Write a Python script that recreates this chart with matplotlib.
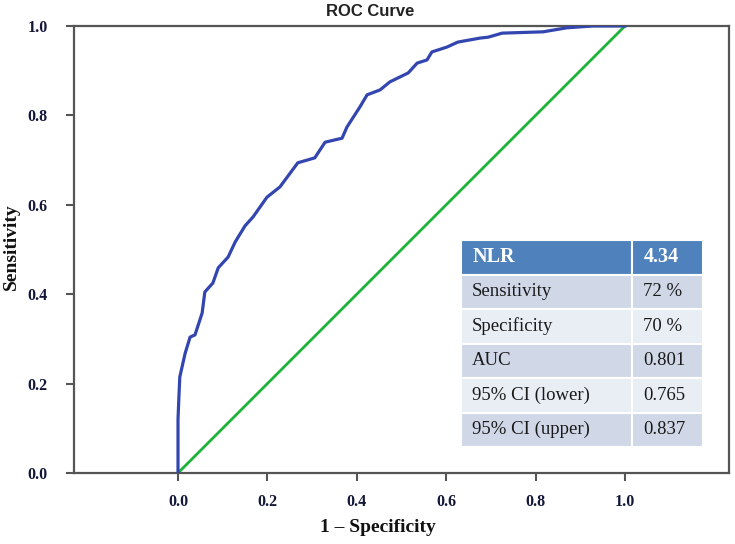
import numpy as np
import matplotlib
matplotlib.use("Agg")
import matplotlib.pyplot as plt

# ROC points (1 - specificity, sensitivity)
fpr = [0.0, 0.0, 0.002, 0.004, 0.016, 0.027, 0.038, 0.054, 0.060, 0.078, 0.090,
       0.112, 0.128, 0.150, 0.168, 0.199, 0.228, 0.268, 0.306, 0.329, 0.367,
       0.378, 0.407, 0.423, 0.452, 0.474, 0.515, 0.535, 0.557, 0.568, 0.602,
       0.626, 0.676, 0.694, 0.725, 0.817, 0.870, 0.928, 1.0]
tpr = [0.0, 0.12, 0.17, 0.215, 0.268, 0.304, 0.309, 0.358, 0.405, 0.425, 0.459,
       0.483, 0.517, 0.553, 0.573, 0.617, 0.640, 0.694, 0.705, 0.740, 0.749,
       0.774, 0.819, 0.846, 0.857, 0.875, 0.895, 0.917, 0.924, 0.942, 0.953,
       0.964, 0.973, 0.975, 0.984, 0.987, 0.996, 1.0, 1.0]

ref_line = [0.0, 1.0]

tbl_labels = ["NLR", "Sensitivity", "Specificity", "AUC", "95% CI (lower)", "95% CI (upper)"]
tbl_values = ["4.34", "72 %", "70 %", "0.801", "0.765", "0.837"]

fig = plt.figure(figsize=(7.35, 5.44), dpi=100)
ax = fig.add_axes([74/735, 1-473/544, 655/735, 447/544])

ax.plot(fpr, tpr, color="#3346b0", lw=2.3, zorder=3)
ax.plot(ref_line, ref_line, color="#1db33b", lw=2.0, zorder=2)

ax.set_xlim(-0.2327, 1.2327)
ax.set_ylim(0, 1)
ticks = [0.0, 0.2, 0.4, 0.6, 0.8, 1.0]
ax.set_xticks(ticks)
ax.set_yticks(ticks)
ax.set_xticklabels(["%.1f" % t for t in ticks])
ax.set_yticklabels(["%.1f" % t for t in ticks])
for lab in ax.get_xticklabels() + ax.get_yticklabels():
    lab.set_fontfamily("Liberation Serif")
    lab.set_fontweight("bold")
    lab.set_fontsize(11.5)
    lab.set_color("#141838")
ax.tick_params(axis="x", direction="out", length=6, width=1.5, color="#555555", pad=9)
ax.tick_params(axis="y", direction="out", length=6, width=1.5, color="#555555", pad=13)
for s in ax.spines.values():
    s.set_color("#555555")
    s.set_linewidth(1.6)

fig.text(370/735, 1-12/544, "ROC Curve", ha="center", va="center",
         fontfamily="Liberation Sans", fontweight="bold", fontsize=12, color="#222222")
fig.text(11/735, 1-247/544, "Sensitivity", rotation=90, ha="center", va="center",
         fontfamily="Liberation Serif", fontweight="bold", fontsize=14, color="#111111")
fig.text(378/735, 1-528/544, "1 \u2013 Specificity", ha="center", va="center",
         fontfamily="Liberation Serif", fontweight="bold", fontsize=14, color="#111111")

# summary table
cells = [[a, b] for a, b in zip(tbl_labels, tbl_values)]
tl = (461-74)/655
tb = (473-447)/447
tw = (703-461)/655
th = (447-240)/447
tab = ax.table(cellText=cells, cellLoc="left", bbox=[tl, tb, tw, th],
               colWidths=[171/242, 71/242], zorder=5)
tab.auto_set_font_size(False)
for (r, c), cell in tab.get_celld().items():
    cell.set_edgecolor("white")
    cell.set_linewidth(1.5)
    cell.PAD = 0.065 if c == 0 else 0.16
    txt = cell.get_text()
    txt.set_fontfamily("Liberation Serif")
    txt.set_fontsize(13.5)
    if r == 0:
        cell.set_facecolor("#4f81bd")
        txt.set_color("white")
        txt.set_fontweight("bold")
        txt.set_fontsize(14.5)
    else:
        cell.set_facecolor("#d0d8e8" if r % 2 == 1 else "#e9edf4")
        txt.set_color("#1a1a1a")

fig.savefig("out.png", dpi=100)
